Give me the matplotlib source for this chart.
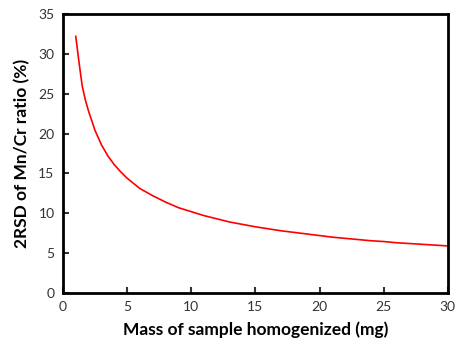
import matplotlib
matplotlib.use('Agg')
import matplotlib.pyplot as plt

# masa (mg) y 2RSD (%)
mass = [1, 1.25, 1.5, 1.75, 2, 2.5, 3, 3.5, 4, 4.5, 5, 6, 7, 8, 9, 10, 11, 12, 13, 14, 15,
        16, 17, 18, 19, 20, 21, 22, 23, 24, 25, 26, 27, 28, 29, 30]
rsd = [32.2, 29.0, 26.0, 24.2, 22.8, 20.4, 18.6, 17.2, 16.1, 15.2, 14.4, 13.1, 12.2, 11.4, 10.7, 10.2,
       9.7, 9.3, 8.9, 8.6, 8.3, 8.05, 7.8, 7.6, 7.4, 7.2,
       7.0, 6.85, 6.7, 6.55, 6.45, 6.3, 6.2, 6.1, 6.0, 5.9]

plt.rcParams['font.family'] = ['Lato', 'DejaVu Sans']

fig = plt.figure(figsize=(4.56, 3.43), dpi=100)
ax = fig.add_axes([0.138, 0.146, 0.844, 0.813])
ax.plot(mass, rsd, color='red', linewidth=1.2)

ax.set_xlim(0, 30)
ax.set_ylim(0, 35)
ax.set_xticks(range(0, 31, 5))
ax.set_yticks(range(0, 36, 5))
ax.tick_params(direction='in', length=4, width=1.5, labelsize=10, colors='#333333',
               labelcolor='#333333', pad=6)
for s in ax.spines.values():
    s.set_linewidth(2)
    s.set_color('black')

ax.set_xlabel('Mass of sample homogenized (mg)', fontsize=12.5, fontweight='bold', labelpad=6)
ax.set_ylabel('2RSD of Mn/Cr ratio (%)', fontsize=12.5, fontweight='bold', labelpad=6)

fig.savefig('out.png', dpi=100)
